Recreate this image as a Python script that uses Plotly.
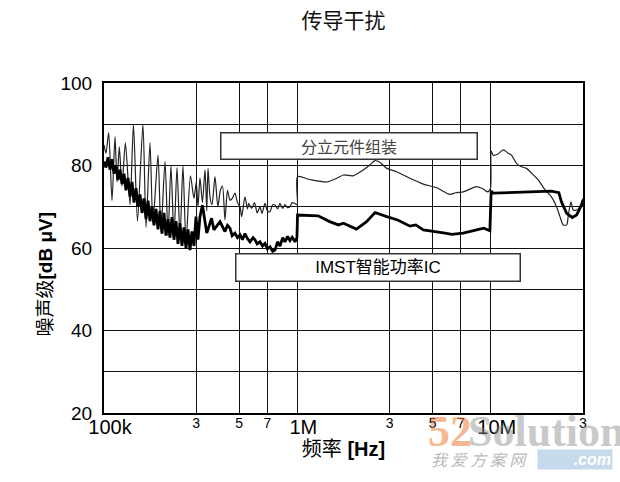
import numpy as np
import plotly.graph_objects as go

# frequency in MHz, noise level in dBµV
f_discrete = [0.100, 0.1024, 0.1057, 0.110, 0.114, 0.1168, 0.120, 0.1239, 0.129, 0.1363,
              0.142, 0.149, 0.159, 0.165, 0.1729, 0.179, 0.1902, 0.197, 0.2068, 0.2143,
              0.222, 0.230, 0.2385, 0.2472, 0.256, 0.2655, 0.280, 0.292, 0.300, 0.3062,
              0.3136, 0.323, 0.3329, 0.340, 0.345, 0.354, 0.362, 0.3749, 0.388, 0.400,
              0.410, 0.4223, 0.435, 0.4482, 0.460, 0.4757, 0.490, 0.505, 0.515, 0.5359,
              0.552, 0.560, 0.580, 0.600, 0.620, 0.6407, 0.656, 0.680, 0.700, 0.7216,
              0.745, 0.7659, 0.790, 0.8128, 0.840, 0.8628, 0.890, 0.9157, 0.940, 0.9718,
              0.998, 1.002, 1.16, 1.42, 1.60, 1.73, 1.94, 2.19, 2.37, 2.52,
              2.67, 2.90, 3.26, 3.82, 4.48, 5.25, 6.15, 6.6, 7.21, 8.45,
              9.14, 9.6, 9.95, 10.05, 10.3, 10.9, 11.6, 12.3, 12.8, 13.6,
              14.4, 15.3, 16.3, 17.6, 19.1, 20.6, 21.9, 22.8, 23.7, 24.7,
              25.2, 26.0, 26.7, 27.8, 28.9, 30.0]
db_discrete = [85, 83, 88, 71.5, 87, 76, 84.5, 75, 85.5, 70.5,
               90, 66.5, 90, 65, 85.5, 66, 82.5, 64, 81, 63,
               80, 62.5, 79.5, 62.5, 80, 61.5, 77.5, 72, 76, 70,
               77, 71, 79, 69, 79.3, 72, 70.5, 77.3, 70, 74,
               75, 66.8, 74, 71.6, 72, 73.3, 71, 70, 67.6, 72.4,
               69.5, 70.8, 69.6, 71, 68.5, 70, 68.4, 70.8, 69, 68.8,
               70.5, 70.4, 69.5, 70.8, 69.6, 70.5, 69.8, 70, 71, 70.8,
               70.5, 77.3, 76.6, 76.0, 76.9, 77.7, 77.5, 78.9, 80.1, 81.2,
               80.8, 79.3, 78.5, 76.9, 75.5, 74.6, 73.0, 73.4, 73.6, 74.9,
               74.3, 73.6, 74.3, 83.5, 82.5, 82.8, 83.8, 83.0, 82.5, 80.5,
               79.7, 79.3, 78.1, 76.5, 74.1, 72.4, 70.0, 67.6, 65.6, 65.6,
               68.0, 71.2, 69.2, 69.2, 70.0, 72.0]

f_imst = [0.100, 0.1024, 0.1049, 0.1074, 0.110, 0.1126, 0.1154, 0.1181, 0.121, 0.1239,
          0.1269, 0.1299, 0.1331, 0.1363, 0.1396, 0.1429, 0.1464, 0.1499, 0.1535, 0.1572,
          0.161, 0.1649, 0.1689, 0.1729, 0.1771, 0.1814, 0.1857, 0.1902, 0.1948, 0.1995,
          0.2043, 0.2092, 0.2143, 0.2194, 0.2247, 0.2301, 0.2357, 0.2414, 0.2472, 0.2531,
          0.2592, 0.2655, 0.2719, 0.2784, 0.2851, 0.292, 0.299, 0.3062, 0.3136, 0.323,
          0.340, 0.360, 0.370, 0.398, 0.4223, 0.435, 0.4482, 0.460, 0.4757, 0.490,
          0.505, 0.520, 0.5359, 0.550, 0.5688, 0.590, 0.6036, 0.620, 0.6407, 0.660,
          0.680, 0.700, 0.7216, 0.745, 0.7659, 0.790, 0.8128, 0.840, 0.8628, 0.890,
          0.9157, 0.940, 0.9718, 0.995, 1.002, 1.28, 1.47, 1.63, 1.73, 2.02,
          2.28, 2.52, 2.90, 3.3, 3.82, 4.1, 4.48, 5.25, 5.8, 6.3,
          7.2, 8.45, 9.2, 9.9, 10.05, 10.3, 13.9, 16.9, 20.6, 22.5,
          23.2, 24.7, 26.4, 27.8, 29.5, 30.0]
db_imst = [81, 79.5, 82, 79, 81.5, 78, 80, 76.5, 79, 75.5,
           78, 74, 77, 72.5, 76, 71, 74.5, 70, 73, 68.5,
           72, 67, 71.5, 66.5, 70, 65.5, 69.5, 64.5, 69, 63.5,
           68.5, 63, 67, 62.5, 67.5, 62, 66.5, 61, 66, 60.5,
           65, 60, 64.5, 59.5, 64, 60.5, 67.6, 62, 67.6, 70.4,
           63.6, 67.2, 64.4, 66.4, 64, 65.5, 64.8, 63, 63.6, 62.5,
           63.2, 62, 63.5, 62.4, 61.5, 62.5, 62, 61, 61.5, 60.5,
           61.1, 59.8, 60.3, 59.2, 59.5, 61.5, 60.5, 62.5, 61.5, 62.8,
           61.8, 62.6, 61.5, 62.5, 68, 67.8, 66.4, 65.6, 66.0, 64.6,
           66.4, 68.6, 67.6, 66.8, 65.3, 65.6, 64.4, 64.0, 63.6, 63.3,
           63.6, 64.4, 64.8, 64.2, 73.8, 73.3, 73.5, 73.7, 73.8, 73.4,
           71.2, 68.4, 67.4, 68.0, 70.4, 71.6]

major_vals = [1e5, 1e6, 1e7]
major_text = ["100k", "1M", "10M"]
minor_vals = [3e5, 5e5, 7e5, 3e6, 5e6, 7e6, 3e7]
minor_text = ["3", "5", "7", "3", "5", "7", "3"]
y_vals = [20, 30, 40, 50, 60, 70, 80, 90, 100]
y_text = ["20", "", "40", "", "60", "", "80", "", "100"]

latin = "Liberation Sans, Arial, sans-serif"
cjk = "Liberation Sans, Noto Sans CJK SC, sans-serif"
x_range = [5, np.log10(3e7)]

fig = go.Figure()
fig.add_trace(go.Scatter(x=np.array(f_discrete) * 1e6, y=db_discrete, mode="lines",
                         name="分立元件组装",
                         line=dict(color="#222222", width=1.2, shape="spline", smoothing=0.7)))
fig.add_trace(go.Scatter(x=np.array(f_imst) * 1e6, y=db_imst, mode="lines",
                         name="IMST智能功率IC", line=dict(color="black", width=2.8)))
# empty trace so the second (minor label) axis is drawn
fig.add_trace(go.Scatter(x=[], y=[], xaxis="x2", showlegend=False))

grid = dict(showgrid=True, gridcolor="#111111", gridwidth=1.4, zeroline=False, ticks="")
fig.update_layout(
    width=620, height=482,
    margin=dict(l=104, r=37, t=83, b=69),
    paper_bgcolor="white", plot_bgcolor="white",
    showlegend=False,
    font=dict(family=cjk, color="black"),
    title=dict(text="传导干扰", x=0.5, xref="paper", xanchor="center", y=0.958, yanchor="middle",
               font=dict(family="Noto Sans CJK SC", size=21, color="#111111")),
    xaxis=dict(type="log", range=x_range, tickvals=major_vals, ticktext=major_text,
               tickfont=dict(family=latin, size=20, color="black"), ticklabelshift=6,
               ticklabelstandoff=-5,
               showline=True, linecolor="black", linewidth=2, mirror=True,
               title=dict(text="频率 <b>[Hz]</b>", font=dict(family=cjk, size=20), standoff=4),
               **grid),
    xaxis2=dict(type="log", range=x_range, overlaying="x", anchor="y", side="bottom",
                tickvals=minor_vals, ticktext=minor_text,
                tickfont=dict(family=latin, size=14, color="black"), showline=False, **grid),
    yaxis=dict(range=[20, 100], tickvals=y_vals, ticktext=y_text,
               tickfont=dict(family=latin, size=19, color="black"), ticklabelstandoff=6,
               showline=True, linecolor="black", linewidth=2, mirror=True, **grid),
)

# y title sits a little below the middle of the plot in the scan
fig.add_annotation(text="噪声级<b>[dB μV]</b>", xref="paper", yref="paper", x=-0.123, y=0.42,
                   xanchor="center", yanchor="middle", textangle=-90, showarrow=False,
                   font=dict(family=cjk, size=19, color="black"))

# label boxes on top of the grid
fig.add_annotation(text="分立元件组装", xref="paper", yref="paper", x=0.5115, y=0.809,
                   xanchor="center", yanchor="middle", showarrow=False,
                   width=255, height=25, bgcolor="white", bordercolor="#333333",
                   borderwidth=1.5, borderpad=0,
                   font=dict(family="Noto Sans CJK SC", size=16, color="#444444"))
fig.add_annotation(text="IMST智能功率IC", xref="paper", yref="paper", x=0.572, y=0.441,
                   xanchor="center", yanchor="middle", showarrow=False,
                   width=283, height=26, bgcolor="white", bordercolor="#333333",
                   borderwidth=1.5, borderpad=0,
                   font=dict(family=cjk, size=17, color="black"))

# site watermark in the lower right corner
fig.add_annotation(text="<b>52</b>", xref="paper", yref="paper", x=0.672, y=-0.055,
                   xanchor="left", yanchor="middle", showarrow=False, opacity=0.55,
                   font=dict(family="Liberation Serif", size=44, color="#ee7f3a"))
fig.add_annotation(text="<b>Solution</b>", xref="paper", yref="paper", x=0.756, y=-0.055,
                   xanchor="left", yanchor="middle", showarrow=False, opacity=0.45,
                   font=dict(family="Liberation Serif", size=44, color="#8a8a8a"))
fig.add_annotation(text="<i>我 爱 方 案 网</i>", xref="paper", yref="paper", x=0.678, y=-0.14,
                   xanchor="left", yanchor="middle", showarrow=False, opacity=0.5,
                   font=dict(family="Noto Sans CJK SC", size=16, color="#777777"))
fig.add_annotation(text="<b><i>.com</i></b>", xref="paper", yref="paper", x=0.904, y=-0.14,
                   xanchor="left", yanchor="middle", showarrow=False, opacity=0.6,
                   bgcolor="#9fc3e0", borderpad=1, width=72, align="right",
                   font=dict(family=latin, size=16, color="white"))

fig.write_html("out.html", config={"displayModeBar": False},
               post_script="document.body.style.margin='0';")
